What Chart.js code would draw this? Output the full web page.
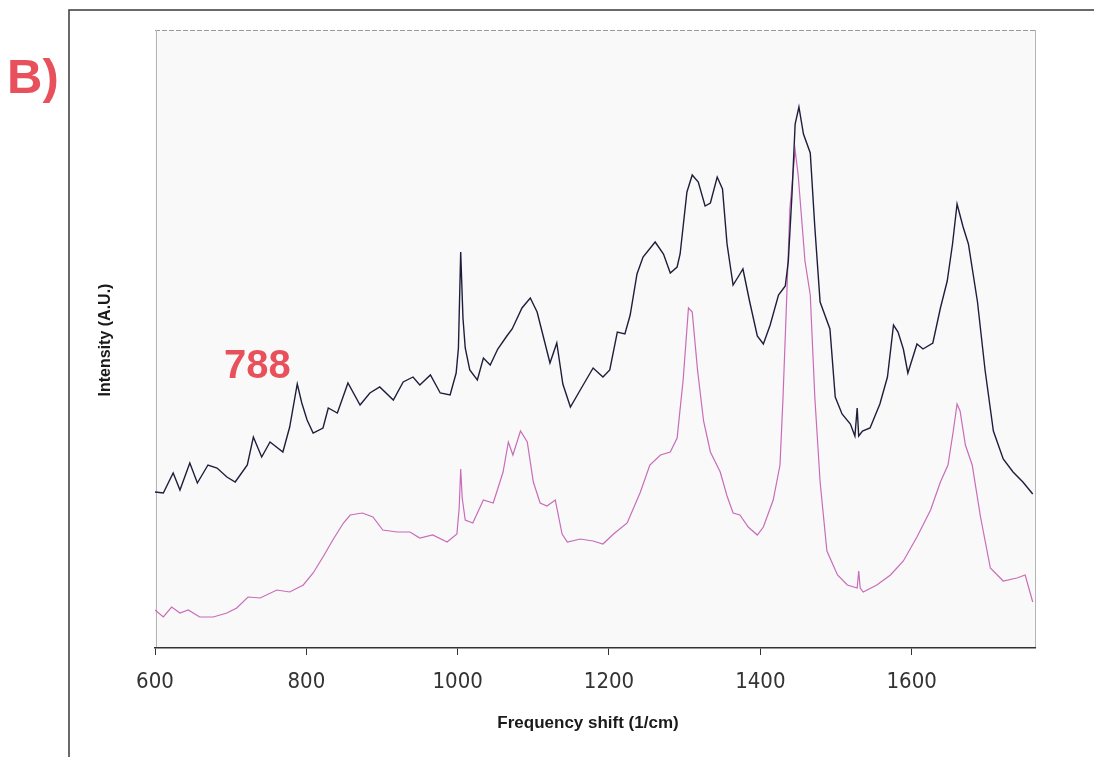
<!DOCTYPE html>
<html>
<head>
<meta charset="utf-8">
<title>Raman spectra B)</title>
<script src="https://cdn.jsdelivr.net/npm/chart.js@4.4.1/dist/chart.umd.min.js"></script>
<style>
  html, body { margin: 0; padding: 0; background: #fff; }
  #wrap { width: 1094px; height: 757px; }
</style>
</head>
<body>
<div id="wrap"><canvas id="spectraChart" width="1094" height="757"></canvas></div>
<script>
// Raman spectra, panel B
// values (intensity in arbitrary units)

const xTicks = [600, 800, 1000, 1200, 1400, 1600];

// upper (dark) spectrum
const darkShift = [600, 611, 624, 633, 646, 656, 670, 682, 695, 706, 722, 730, 741, 752, 769, 778, 788, 794, 801, 809,
  822, 829, 841, 855, 871, 884, 897, 915, 928, 941, 950, 964, 977, 990, 998, 1001, 1004, 1007, 1010, 1016,
  1026, 1034, 1043, 1053, 1065, 1072, 1085, 1096, 1105, 1113, 1122, 1131, 1139, 1149, 1162, 1179, 1192, 1201, 1211, 1221,
  1228, 1237, 1245, 1261, 1272, 1281, 1290, 1294, 1303, 1310, 1318, 1327, 1334, 1343, 1350, 1356, 1364, 1373, 1377, 1386,
  1396, 1404, 1413, 1424, 1433, 1437, 1442, 1446, 1451, 1457, 1466, 1472, 1479, 1492, 1499, 1508, 1519, 1525, 1528, 1530,
  1535, 1545, 1558, 1568, 1576, 1582, 1589, 1595, 1607, 1615, 1628, 1638, 1647, 1654, 1660, 1668, 1675, 1687, 1697, 1708,
  1721, 1734, 1747, 1760];
const darkInt = [156, 155, 175, 158, 185, 165, 183, 180, 171, 166, 183, 211, 191, 206, 196, 221, 264, 245, 228, 215,
  220, 240, 235, 265, 243, 255, 261, 248, 266, 271, 263, 273, 255, 253, 275, 300, 396, 330, 300, 278,
  268, 290, 283, 299, 312, 319, 340, 350, 336, 312, 285, 305, 264, 241, 258, 280, 271, 278, 316, 314,
  333, 374, 391, 406, 394, 375, 381, 394, 456, 473, 466, 442, 445, 471, 459, 404, 363, 374, 379, 346,
  312, 304, 323, 353, 362, 387, 456, 524, 541, 514, 495, 421, 346, 319, 251, 234, 224, 212, 240, 212,
  217, 220, 244, 271, 323, 316, 299, 275, 304, 299, 305, 340, 367, 404, 444, 421, 404, 346, 278, 217,
  189, 176, 166, 154];

// lower (magenta) spectrum
const pinkShift = [600, 611, 622, 633, 644, 659, 677, 695, 708, 723, 739, 761, 778, 796, 809, 822, 835, 849, 858, 874,
  888, 901, 920, 937, 950, 967, 986, 999, 1002, 1004, 1006, 1010, 1020, 1034, 1047, 1060, 1067, 1073, 1083, 1092,
  1100, 1109, 1118, 1129, 1138, 1145, 1162, 1179, 1192, 1206, 1224, 1241, 1254, 1268, 1281, 1290, 1298, 1305, 1310, 1317,
  1325, 1334, 1347, 1356, 1364, 1373, 1384, 1396, 1404, 1417, 1426, 1430, 1435, 1439, 1446, 1450, 1459, 1466, 1472, 1479,
  1488, 1502, 1515, 1528, 1530, 1532, 1536, 1554, 1572, 1589, 1607, 1625, 1638, 1648, 1655, 1660, 1664, 1671, 1680, 1691,
  1704, 1721, 1739, 1750, 1760];
const pinkInt = [38, 31, 41, 35, 38, 31, 31, 35, 40, 51, 50, 58, 56, 63, 75, 91, 108, 125, 133, 135,
  131, 118, 116, 116, 110, 113, 106, 114, 140, 179, 150, 128, 125, 148, 145, 176, 206, 193, 217, 206,
  166, 145, 142, 148, 114, 106, 109, 107, 104, 114, 125, 155, 183, 193, 196, 210, 268, 340, 336, 278,
  227, 196, 176, 152, 135, 133, 121, 113, 121, 148, 183, 251, 353, 439, 498, 473, 387, 353, 251, 166,
  97, 73, 63, 60, 77, 60, 56, 63, 73, 87, 111, 138, 166, 183, 217, 244, 237, 203, 183, 131,
  80, 67, 70, 73, 46];

const toPoints = (xs, ys) => xs.map((x, i) => ({ x: x, y: ys[i] }));

// background, frames and the hand-placed labels of the figure
const figureDecor = {
  id: 'figureDecor',
  beforeDraw(chart) {
    const ctx = chart.ctx;
    const a = chart.chartArea;
    ctx.save();
    ctx.fillStyle = '#ffffff';
    ctx.fillRect(0, 0, chart.width, chart.height);
    ctx.fillStyle = '#f9f9f9';
    ctx.fillRect(a.left, a.top, a.right - a.left, a.bottom - a.top);

    // outer panel frame
    ctx.strokeStyle = '#3a3a3a';
    ctx.lineWidth = 1.5;
    ctx.beginPath();
    ctx.moveTo(69, chart.height);
    ctx.lineTo(69, 10);
    ctx.lineTo(chart.width, 10);
    ctx.stroke();

    // plot frame (light)
    ctx.strokeStyle = '#9a9a9a';
    ctx.lineWidth = 1;
    ctx.setLineDash([5, 2]);
    ctx.beginPath();
    ctx.moveTo(a.left, a.top + 0.5);
    ctx.lineTo(a.right, a.top + 0.5);
    ctx.stroke();
    ctx.setLineDash([]);
    ctx.strokeStyle = '#b5b5b5';
    ctx.beginPath();
    ctx.moveTo(a.left + 1.5, a.top);
    ctx.lineTo(a.left + 1.5, a.bottom);
    ctx.moveTo(a.right + 0.5, a.top);
    ctx.lineTo(a.right + 0.5, a.bottom);
    ctx.stroke();
    ctx.restore();
  },
  afterDraw(chart) {
    const ctx = chart.ctx;
    ctx.save();
    ctx.fillStyle = '#e8505b';
    ctx.textAlign = 'left';
    ctx.textBaseline = 'alphabetic';
    ctx.font = 'bold 49px "Liberation Sans", Arial, sans-serif';
    ctx.fillText('B)', 7, 93);
    ctx.font = 'bold 40px "Liberation Sans", Arial, sans-serif';
    ctx.fillText('788', 224, 378);

    ctx.fillStyle = '#1a1a1a';
    ctx.font = 'bold 17px "Liberation Sans", Arial, sans-serif';
    ctx.textAlign = 'center';
    ctx.fillText('Frequency shift (1/cm)', 588, 728);

    ctx.translate(110, 340);
    ctx.rotate(-Math.PI / 2);
    ctx.font = 'bold 16px "Liberation Sans", Arial, sans-serif';
    ctx.fillText('Intensity (A.U.)', 0, 0);
    ctx.restore();
  }
};

new Chart(document.getElementById('spectraChart'), {
  type: 'line',
  data: {
    datasets: [
      {
        label: 'upper',
        data: toPoints(darkShift, darkInt),
        borderColor: '#1e1e3c',
        borderWidth: 1.4,
        pointRadius: 0,
        tension: 0,
      },
      {
        label: 'lower',
        data: toPoints(pinkShift, pinkInt),
        borderColor: '#c86cb9',
        borderWidth: 1.2,
        pointRadius: 0,
        tension: 0,
      },
    ],
  },
  options: {
    responsive: false,
    animation: false,
    devicePixelRatio: 1,
    layout: {
      padding: { left: 155, right: 59, top: 30, bottom: 0 },
    },
    plugins: {
      legend: { display: false },
      tooltip: { enabled: false },
    },
    scales: {
      x: {
        type: 'linear',
        min: 600,
        max: 1763,
        afterBuildTicks: (scale) => {
          scale.ticks = xTicks.map((v) => ({ value: v }));
        },
        afterFit: (scale) => {
          scale.height = 109;
        },
        grid: {
          display: true,
          drawOnChartArea: false,
          drawTicks: true,
          tickLength: 7,
          color: '#333333',
        },
        border: { display: true, color: '#333333', width: 1.5 },
        ticks: {
          padding: 14,
          color: '#333333',
          maxRotation: 0,
          callback: (v) => String(v),
          font: { family: '"DejaVu Sans Condensed", "DejaVu Sans", sans-serif', size: 22, weight: '300' },
        },
      },
      y: {
        display: false,
        min: 0,
        max: 618,
      },
    },
  },
  plugins: [figureDecor],
});
</script>
</body>
</html>
